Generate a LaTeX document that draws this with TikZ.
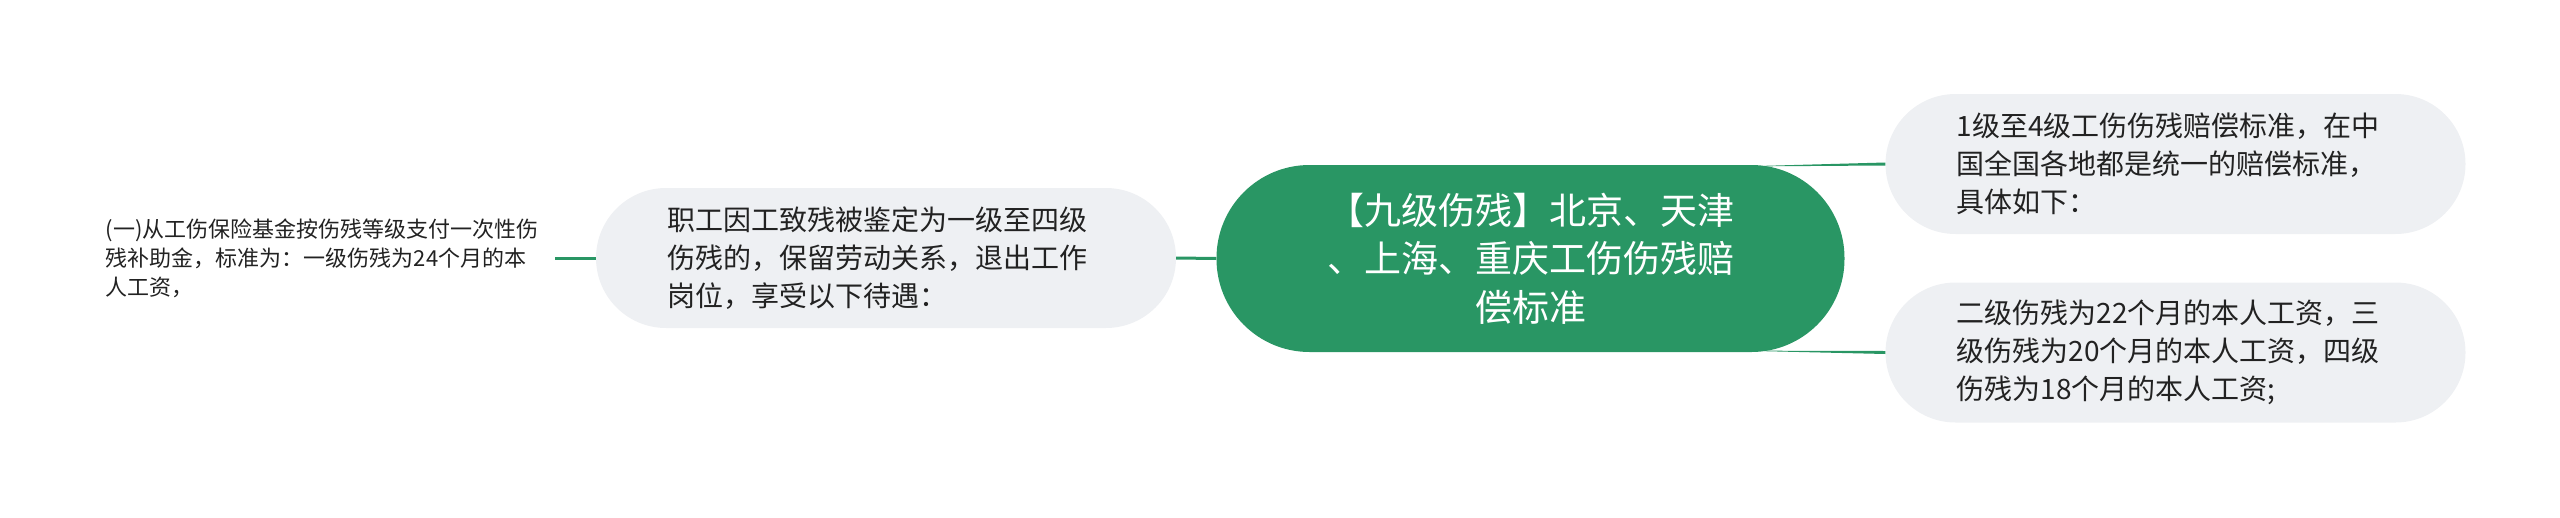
\documentclass[tikz,border=0pt]{standalone}
\usepackage{fontspec}
\newfontfamily\cjk{Noto Sans CJK SC}
\usetikzlibrary{calc}
\definecolor{brgreen}{RGB}{41,150,100}
\definecolor{nodegray}{RGB}{238,240,243}
\definecolor{txtdark}{RGB}{34,34,34}
\tikzset{
  leafbox/.style={inner xsep=0pt, inner ysep=0pt, text width=449pt, align=left,
    text=txtdark, font=\cjk\fontsize{22}{29}\selectfont},
  subbox/.style={fill=nodegray, rounded corners=70pt, inner xsep=71pt, inner ysep=0pt,
    text width=438pt, minimum height=140pt, align=left, text=txtdark,
    font=\cjk\fontsize{28}{38}\selectfont},
  rootbox/.style={fill=brgreen, rounded corners=93pt, minimum width=628pt, minimum height=187pt,
    inner sep=0pt, align=center, text=white, font=\cjk\fontsize{37}{48.5}\selectfont},
  link/.style={draw=brgreen, line width=3pt},
}
\begin{document}
\begin{tikzpicture}[x=1pt, y=-1pt]
\useasboundingbox (0,0) rectangle (2560,517);
\node[rootbox] (c) at (1530.5,258.5) {【九级伤残】北京、天津\\、上海、重庆工伤伤残赔\\偿标准};
\node[subbox] (n1) at (886,258) {职工因工致残被鉴定为一级至四级\\伤残的，保留劳动关系，退出工作\\岗位，享受以下待遇：};
\node[leafbox, anchor=east] (lf) at (555,258) {(一)从工伤保险基金按伤残等级支付一次性伤\\残补助金，标准为：一级伤残为24个月的本\\人工资，};
\node[subbox] (rt) at (2175.5,164) {1级至4级工伤伤残赔偿标准，在中\\国全国各地都是统一的赔偿标准，\\具体如下：};
\node[subbox] (rb) at (2175.5,352.5) {二级伤残为22个月的本人工资，三\\级伤残为20个月的本人工资，四级\\伤残为18个月的本人工资;};
\draw[link] (lf.east) -- (n1.west);
\draw[link] (n1.east) -- (c.west);
\fill[brgreen] ($(c.north east)+(-80,1)$) -- ($(rt.west)+(0,-1.5)$) -- ($(rt.west)+(0,1.5)$) -- ($(c.north east)+(-80,1.5)$) -- cycle;
\fill[brgreen] ($(c.south east)+(-80,-1)$) -- ($(rb.west)+(0,1.5)$) -- ($(rb.west)+(0,-1.5)$) -- ($(c.south east)+(-80,-1.5)$) -- cycle;
\end{tikzpicture}
\end{document}
